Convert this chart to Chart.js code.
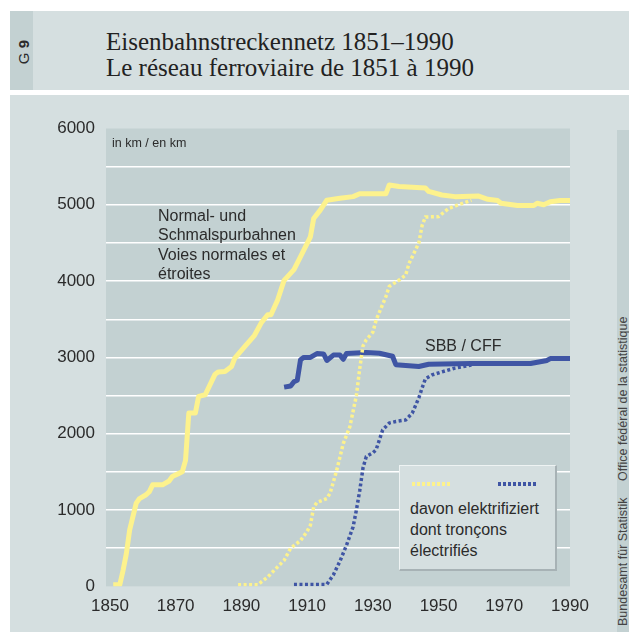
<!DOCTYPE html>
<html>
<head>
<meta charset="utf-8">
<script src="https://cdn.jsdelivr.net/npm/chart.js@4/dist/chart.umd.min.js"></script>
<style>
  body { margin: 0; width: 629px; height: 632px; position: relative; overflow: hidden; background: #fff; color: #2b2b2b; font-family: "Liberation Sans", Arial, sans-serif; }
  .abs { position: absolute; }
  #head { left: 10px; top: 11px; width: 619px; height: 79px; background: #d5dfe0; }
  #strip { left: 0; top: 0; width: 23px; height: 79px; background: #c3d1d2; }
  #gnum { left: 5.5px; top: 29px; writing-mode: vertical-rl; transform: rotate(180deg); font-size: 15px; line-height: 16px; }
  #title { left: 96px; top: 17.5px; font-family: "Liberation Serif", "Times New Roman", serif; font-size: 25px; line-height: 26px; color: #222; white-space: nowrap; }
  #panel { left: 10px; top: 95px; width: 619px; height: 537px; background: #d5dfe0; }
  #source { left: 617px; top: 130px; width: 12px; height: 502px; background: #c3d1d2; overflow: hidden; }
  #source div { position: absolute; left: -0.5px; top: 187px; writing-mode: vertical-rl; transform: rotate(180deg); font-size: 12.5px; line-height: 13px; white-space: nowrap; color: #444; }
  #chartBox { left: 0; top: 95px; width: 617px; height: 537px; }
  .note { position: absolute; font-size: 16px; white-space: nowrap; }
  #legendBox { left: 399px; top: 465px; width: 155px; height: 103px; background: #d5dfe0; border-top: 1px solid #eef3f3; border-left: 1px solid #eef3f3; border-right: 2px solid #a7b2b5; border-bottom: 2px solid #a7b2b5; }
  .sample { position: absolute; height: 3.5px; width: 40px; top: 16px; }
</style>
</head>
<body>
<div id="head" class="abs">
  <div id="strip" class="abs"><div id="gnum" class="abs">G <b>9</b></div></div>
  <div id="title" class="abs">Eisenbahnstreckennetz 1851–1990<br>Le réseau ferroviaire de 1851 à 1990</div>
</div>
<div id="panel" class="abs"></div>
<div id="source" class="abs"><div>Bundesamt für Statistik<span style="margin-inline-start:16px">Office fédéral de la statistique</span></div></div>
<div id="chartBox" class="abs"><canvas id="railChart"></canvas></div>

<div class="note" style="left:112px;top:137px;font-size:12.5px;line-height:12.5px;">in km / en km</div>
<div class="note" style="left:158px;top:206px;line-height:19.4px;">Normal- und<br>Schmalspurbahnen<br>Voies normales et<br>étroites</div>
<div class="note" style="left:425px;top:338px;line-height:16px;">SBB / CFF</div>
<div id="legendBox" class="abs">
  <div id="sampleNet" class="sample" style="left:12px;"></div>
  <div id="sampleSbb" class="sample" style="left:98px;"></div>
  <div class="note" style="left:10px;top:32px;line-height:21px;">davon elektrifiziert<br>dont tronçons<br>électrifiés</div>
</div>

<script>
// Railway network length in km
const networkYears = [1851, 1853, 1854, 1855, 1856, 1858, 1859, 1861, 1862, 1863, 1866, 1868, 1869, 1871, 1872, 1873, 1874, 1876, 1877, 1879,
  1880, 1882, 1883, 1885, 1887, 1888, 1891, 1894, 1896, 1898, 1899, 1901, 1903, 1906, 1908, 1911, 1912, 1914, 1916, 1920,
  1924, 1926, 1934, 1935, 1938, 1946, 1947, 1951, 1955, 1962, 1965, 1968, 1969, 1974, 1979, 1980, 1982, 1984, 1987, 1990];
const networkKm = [20, 20, 210, 430, 740, 1090, 1150, 1200, 1240, 1330, 1330, 1380, 1440, 1480, 1500, 1650, 2270, 2270, 2490, 2510,
  2600, 2780, 2810, 2815, 2880, 2990, 3140, 3290, 3450, 3560, 3560, 3750, 4010, 4150, 4320, 4580, 4820, 4930, 5060, 5085,
  5107, 5145, 5145, 5260, 5240, 5220, 5175, 5128, 5107, 5116, 5072, 5055, 5020, 4990, 4990, 5020, 5000, 5040, 5055, 5055];

const sbbYears = [1903, 1905, 1906, 1907, 1908, 1909, 1911, 1913, 1915, 1916, 1918, 1920, 1921, 1922, 1928, 1932, 1936, 1937, 1944, 1947,
  1960, 1978, 1983, 1984, 1990];
const sbbKm = [2610, 2625, 2680, 2700, 2970, 3000, 3000, 3050, 3045, 2960, 3030, 3030, 2975, 3050, 3065, 3055, 3015, 2905, 2880, 2910,
  2920, 2920, 2960, 2985, 2985];

const netElecYears = [1889, 1895, 1896, 1898, 1900, 1903, 1905, 1908, 1910, 1911, 1912, 1913, 1916, 1917, 1919, 1921, 1923, 1925, 1926, 1927,
  1928, 1930, 1931, 1934, 1935, 1938, 1940, 1941, 1944, 1945, 1946, 1950, 1953, 1956, 1960];
const netElecKm = [20, 20, 55, 120, 210, 340, 500, 600, 720, 800, 1040, 1100, 1150, 1220, 1520, 1870, 2090, 2500, 2850, 3150,
  3230, 3330, 3490, 3800, 3930, 4014, 4080, 4230, 4500, 4730, 4840, 4845, 4950, 5000, 5060];

const sbbElecYears = [1906, 1916, 1918, 1920, 1922, 1924, 1925, 1926, 1927, 1928, 1930, 1931, 1933, 1935, 1937, 1940, 1942, 1944, 1945, 1946,
  1948, 1951, 1955, 1960];
const sbbElecKm = [25, 25, 150, 330, 540, 780, 1000, 1250, 1550, 1700, 1750, 1790, 2050, 2140, 2160, 2180, 2270, 2470, 2600, 2720,
  2770, 2810, 2860, 2900];

const yearTicks = [1850, 1870, 1890, 1910, 1930, 1950, 1970, 1990];

const YELLOW = '#fdf28d';
const BLUE = '#3f55a4';
const PLOT_BG = '#c3d1d2';
const TEXT = '#2b2b2b';

function toPoints(xs, ys) {
    return xs.map((x, i) => ({ x: x, y: ys[i] }));
}

// legend samples use the same dotted look as the lines
document.getElementById('sampleNet').style.background = `repeating-linear-gradient(90deg, ${YELLOW} 0 3px, transparent 3px 5px)`;
document.getElementById('sampleSbb').style.background = `repeating-linear-gradient(90deg, ${BLUE} 0 3px, transparent 3px 5px)`;

const plotBackground = {
    id: 'plotBackground',
    beforeDraw(chart) {
        const { ctx, chartArea } = chart;
        ctx.save();
        ctx.fillStyle = PLOT_BG;
        ctx.fillRect(chartArea.left, chartArea.top, chartArea.right - chartArea.left, chartArea.bottom - chartArea.top);
        ctx.restore();
    }
};

const tickFont = { family: '"Liberation Sans", Arial, sans-serif', size: 17 };

new Chart(document.getElementById('railChart'), {
    type: 'line',
    data: {
        datasets: [
            {
                label: 'davon elektrifiziert (Netz)',
                data: toPoints(netElecYears, netElecKm),
                borderColor: YELLOW,
                borderWidth: 3.5,
                borderDash: [3, 2.5],
                borderCapStyle: 'butt',
                order: 0
            },
            {
                label: 'Normal- und Schmalspurbahnen',
                data: toPoints(networkYears, networkKm),
                borderColor: YELLOW,
                borderWidth: 5,
                borderJoinStyle: 'round',
                order: 2
            },
            {
                label: 'davon elektrifiziert (SBB)',
                data: toPoints(sbbElecYears, sbbElecKm),
                borderColor: BLUE,
                borderWidth: 3.5,
                borderDash: [3, 2.5],
                borderCapStyle: 'butt',
                order: 1
            },
            {
                label: 'SBB / CFF',
                data: toPoints(sbbYears, sbbKm),
                borderColor: BLUE,
                borderWidth: 5,
                borderJoinStyle: 'round',
                order: 3
            }
        ]
    },
    options: {
        responsive: true,
        maintainAspectRatio: false,
        animation: false,
        parsing: false,
        elements: { point: { radius: 0 }, line: { tension: 0, fill: false } },
        layout: { padding: { top: 33.5, right: 47, left: 0, bottom: 0 } },
        scales: {
            x: {
                type: 'linear',
                min: 1848.8,
                max: 1990,
                afterBuildTicks: scale => { scale.ticks = yearTicks.map(v => ({ value: v })); },
                afterFit: scale => { scale.height = 45.7; },
                grid: { display: false, drawTicks: false },
                border: { display: false },
                ticks: { font: tickFont, color: TEXT, padding: 10, maxRotation: 0, autoSkip: false, callback: v => String(v) }
            },
            y: {
                min: 0,
                max: 6000,
                afterFit: scale => { scale.width = 106; },
                grid: {
                    drawTicks: false,
                    lineWidth: 1.5,
                    color: ctx => (ctx.tick && ctx.tick.value > 0 && ctx.tick.value < 6000) ? '#ffffff' : 'rgba(0,0,0,0)'
                },
                border: { display: false },
                ticks: {
                    stepSize: 500,
                    font: tickFont,
                    color: TEXT,
                    padding: 11,
                    callback: v => (v % 1000 === 0 ? String(v) : '')
                }
            }
        },
        plugins: {
            legend: { display: false },
            tooltip: { enabled: false }
        }
    },
    plugins: [plotBackground]
});
</script>
</body>
</html>
